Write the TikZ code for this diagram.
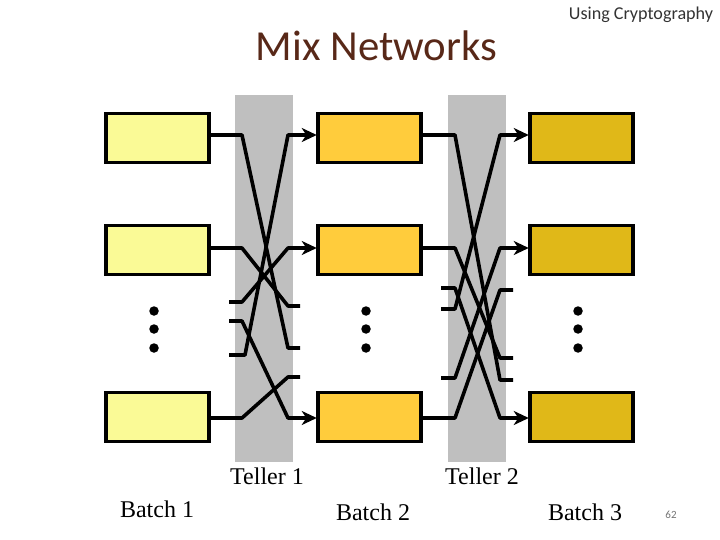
\documentclass[tikz,border=0pt]{standalone}
\usepackage{fontspec}
\setmainfont{Liberation Serif}
\newfontfamily\calibri{Carlito}
\usetikzlibrary{arrows.meta}
\definecolor{batchA}{RGB}{250,250,150}
\definecolor{batchB}{RGB}{255,204,60}
\definecolor{batchC}{RGB}{224,184,24}
\definecolor{teller}{RGB}{191,191,191}
\definecolor{heading}{RGB}{88,40,24}
\tikzset{
    box/.style={draw=black, line width=3.6pt, minimum width=102.5pt, minimum height=49pt, inner sep=0pt, outer sep=0pt},
    wire/.style={line width=3.6pt, line join=round, black},
    into/.style={wire, shorten >=1.5pt, -{Stealth[length=15pt, width=14pt, inset=4.5pt]}},
    dot/.style={circle, fill=black, minimum size=9.5pt, inner sep=0pt},
    label/.style={font=\fontsize{24}{26}\selectfont, inner sep=0pt},
}
\begin{document}
\begin{tikzpicture}[x=1pt, y=-1pt]
    \useasboundingbox (0,0) rectangle (720,540);

    % Tellers
    \fill[teller] (235,95) rectangle (293,462);
    \fill[teller] (448,95) rectangle (506,462);

    % Batches
    \foreach \n/\y/\w in {1/138/135, 2/250/248, 3/417/418} {
        \node[box, fill=batchA] (a\n) at (157.5,\y) {};
        \node[box, fill=batchB] (b\n) at (369.5,\y) {};
        \node[box, fill=batchC] (c\n) at (581.5,\y) {};
        \coordinate (ao\n) at (a\n.east |- 0,\w);
        \coordinate (bi\n) at (b\n.west |- 0,\w);
        \coordinate (bo\n) at (b\n.east |- 0,\w);
        \coordinate (ci\n) at (c\n.west |- 0,\w);
    }

    % Dots
    \foreach \x/\m in {154/u, 366/v, 578/w} {
        \foreach \y/\k in {311/1, 329/2, 348/3} {
            \node[dot] (\m\k) at (\x,\y) {};
        }
    }

    % Free ends, Teller 1
    \coordinate (p1) at (229,302);
    \coordinate (p2) at (229,321);
    \coordinate (p3) at (229,355);
    \coordinate (q1) at (300,306);
    \coordinate (q2) at (300,348);
    \coordinate (q3) at (300,377);

    % Free ends, Teller 2
    \coordinate (r1) at (441,288);
    \coordinate (r2) at (441,309);
    \coordinate (r3) at (441,378);
    \coordinate (s1) at (513,290);
    \coordinate (s2) at (513,358);
    \coordinate (s3) at (513,380);

    % Teller 1 wires
    \draw[wire] (ao1) -- (242,135) -- (288,348) -- (q2);
    \draw[wire] (ao2) -- (242,248) -- (288,306) -- (q1);
    \draw[wire] (ao3) -- (242,418) -- (288,377) -- (q3);
    \draw[into] (p1) -- (242,302) -- (288,248) -- (bi2);
    \draw[into] (p2) -- (242,321) -- (288,418) -- (bi3);
    \draw[into] (p3) -- (245,355) -- (288,135) -- (bi1);

    % Teller 2 wires
    \draw[wire] (bo1) -- (455,135) -- (500,380) -- (s3);
    \draw[wire] (bo2) -- (455,248) -- (500,358) -- (s2);
    \draw[wire] (bo3) -- (455,418) -- (500,290) -- (s1);
    \draw[into] (r1) -- (455,288) -- (500,418) -- (ci3);
    \draw[into] (r2) -- (455,309) -- (500,135) -- (ci1);
    \draw[into] (r3) -- (455,378) -- (500,248) -- (ci2);

    % Labels
    \node[label] (t1) at (267,476) {Teller 1};
    \node[label] (t2) at (482,476) {Teller 2};
    \node[label] (l1) at (157,509) {Batch 1};
    \node[label] (l2) at (373,512) {Batch 2};
    \node[label] (l3) at (585,512) {Batch 3};
    \node[font=\calibri\fontsize{42.8}{44}\selectfont, text=heading, inner sep=0pt] (title) at (376.5,46) {Mix Networks};
    \node[font=\calibri\fontsize{18.1}{20}\selectfont, text=black!80, inner sep=0pt] (topic) at (641,15) {Using Cryptography};
    \node[font=\calibri\fontsize{11}{12}\selectfont, text=black!55, inner sep=0pt] (page) at (671,515) {62};
\end{tikzpicture}
\end{document}
